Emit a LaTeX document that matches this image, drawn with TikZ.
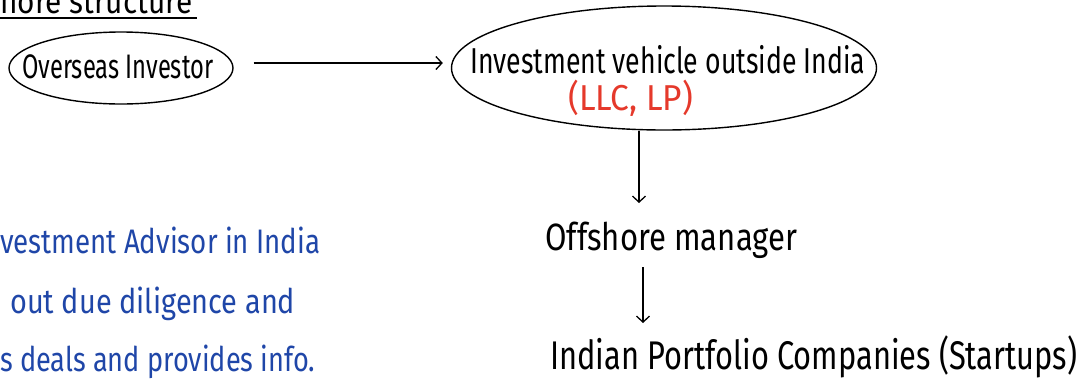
\documentclass[tikz,border=0pt]{standalone}
\usepackage{fontspec}
\setmainfont{Fira Sans}
\usetikzlibrary{shapes.geometric,arrows.meta}
\definecolor{inkred}{HTML}{E5392B}
\definecolor{inkblue}{HTML}{1F46A8}
% text set at a given size, squeezed to a given width (in pt)
\newcommand{\fitto}[3]{\resizebox{#1pt}{\height}{\fontsize{#2}{#2}\selectfont #3}}
\begin{document}
\begin{tikzpicture}[x=1pt,y=-1pt,
  bubble/.style={draw, ellipse, line width=1.4pt, inner sep=0pt},
  txt/.style={inner sep=0pt, anchor=base west},
  flow/.style={-{Straight Barb[length=6pt,width=13pt,line width=1.3pt]}, line width=1.3pt},
]
\useasboundingbox (0,0) rectangle (1079,389);
\clip (0,0) rectangle (1079,389);

% heading
\node[txt] (head) at (0,13) {\fitto{192}{34}{hore structure}};
\draw[line width=1.4pt] (0,18) -- (197,18);

% ellipses
\node[bubble, minimum width=224pt, minimum height=72pt] (inv) at (121,68) {};
\node[txt] (invtext) at (22,78) {\fitto{191}{34}{Overseas Investor}};

\node[bubble, minimum width=425pt, minimum height=124pt] (veh) at (664,68) {};
\node[txt] (vehtext) at (470,73) {\fitto{395}{36}{Investment vehicle outside India}};
\node[txt, text=inkred] (vehform) at (568,110) {\fitto{125}{36}{(LLC, LP)}};

% lower chain
\node[txt] (mgr) at (545,250) {\fitto{252}{38}{Offshore manager}};
\node[txt] (cos) at (550,369) {\fitto{527}{40}{Indian Portfolio Companies (Startups)}};

\coordinate (a1) at (639,203);
\coordinate (a2s) at (643,267);
\coordinate (a2e) at (643,323);

\draw[flow, shorten <=20pt, shorten >=8pt] ([yshift=5pt]inv.east) -- ([yshift=5pt]veh.west);
\draw[flow] (veh.south -| a1) -- (a1);
\draw[flow] (a2s) -- (a2e);

% advisor notes
\node[txt, text=inkblue] (adv1) at (0,253) {\fitto{320}{34}{vestment Advisor in India}};
\node[txt, text=inkblue] (adv2) at (10,313) {\fitto{285}{34}{out due diligence and}};
\node[txt, text=inkblue] (adv3) at (0,371) {\fitto{315}{34}{s deals and provides info.}};
\end{tikzpicture}
\end{document}
